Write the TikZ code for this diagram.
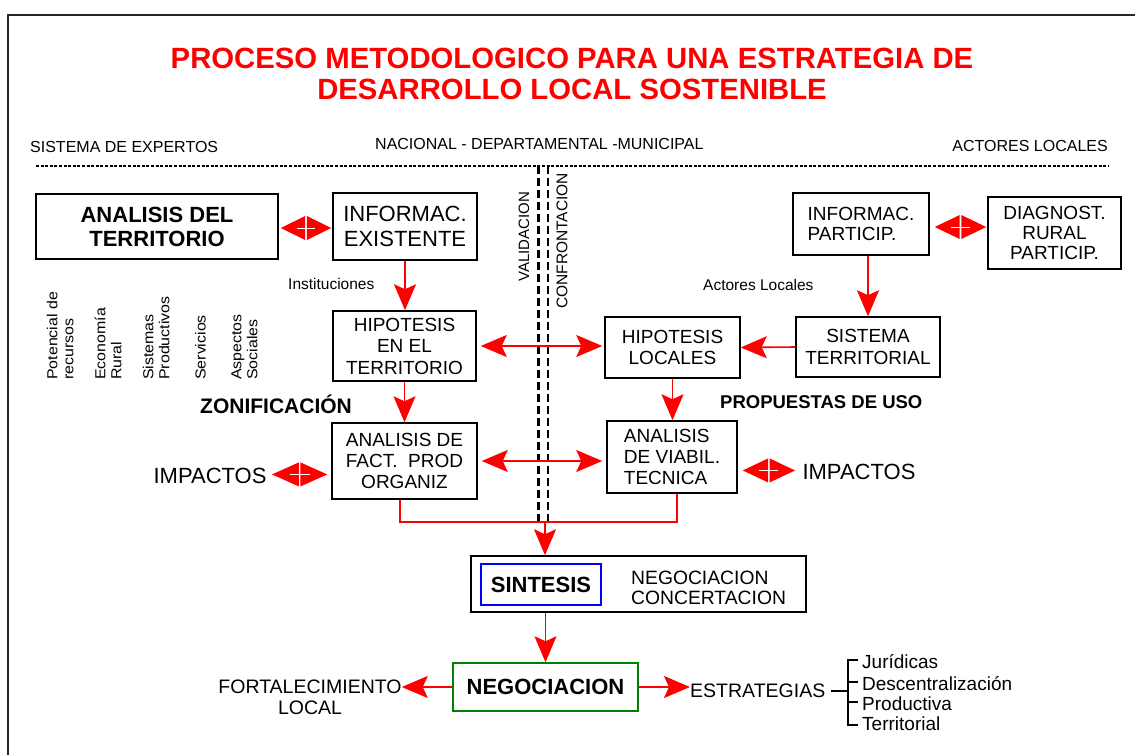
\documentclass[tikz,border=0pt]{standalone}
\usepackage{fontspec}
\setmainfont{Liberation Sans}
\usetikzlibrary{arrows.meta,calc}
\definecolor{myred}{RGB}{255,0,0}
\definecolor{mygreen}{RGB}{0,128,0}
\definecolor{myblue}{RGB}{0,0,255}
\newcommand\fsz[2]{\fontsize{#1}{#2}\selectfont}
% double-headed red arrow: two triangles meeting in the middle
\newcommand\twohead[3]{%
  \fill[myred] #1 -- ($#1!0.485!#2+(0,-#3)$) -- ($#1!0.485!#2+(0,#3)$) -- cycle;
  \fill[myred] #2 -- ($#1!0.515!#2+(0,-#3)$) -- ($#1!0.515!#2+(0,#3)$) -- cycle;
  \draw[white,line width=1pt] ($#1!0.32!#2$) -- ($#1!0.68!#2$);
}
\begin{document}
\begin{tikzpicture}[x=1pt,y=-1pt,
  box/.style={draw=black, line width=1.5pt, inner sep=0pt, align=center},
  redline/.style={draw=myred, line width=1.6pt},
  arr/.style={redline, -{Stealth[length=26pt,width=22pt,inset=5pt]}},
  dblarr/.style={redline, {Stealth[length=26pt,width=22pt,inset=5pt]}-{Stealth[length=26pt,width=22pt,inset=5pt]}},
  lbl/.style={inner sep=0pt, font=\fsz{16}{18}},
  rot/.style={rotate=90, anchor=north west, inner sep=0pt, font=\fsz{14.5}{16}},
  item/.style={anchor=base west, inner sep=0pt, font=\fsz{19}{20}}
]
\useasboundingbox (0,0) rectangle (1135,755);
% frame
\draw[line width=2pt, draw=black!85] (1135,15) -- (8,15) -- (8,755);
% title
\node[font=\bfseries\fsz{29.3}{31.5}, text=myred, align=center, inner sep=0pt] (title) at (572,74) {PROCESO METODOLOGICO PARA UNA ESTRATEGIA DE\\DESARROLLO LOCAL SOSTENIBLE};
% headers
\node[lbl, anchor=base west] (hexp) at (30,152) {SISTEMA DE EXPERTOS};
\node[lbl, anchor=base west] (hnac) at (375,149) {NACIONAL - DEPARTAMENTAL -MUNICIPAL};
\node[lbl, anchor=base east] (hact) at (1108,151) {ACTORES LOCALES};
\draw[line width=2.5pt, dash pattern=on 3pt off 1.6pt] (36,166) -- (1108,166);
% vertical separators
\draw[line width=3pt, dash pattern=on 8pt off 4pt] (538,166) -- (538,522);
\draw[line width=2pt, dash pattern=on 8pt off 4pt] (548,166) -- (548,522);
\node[rotate=90, inner sep=0pt, font=\fsz{15}{16}] (valid) at (524,237) {VALIDACION};
\node[rotate=90, inner sep=0pt, font=\fsz{15.5}{16}] (confr) at (562,241) {CONFRONTACION};
% boxes
\node[box, minimum width=242pt, minimum height=65pt, font=\bfseries\fsz{22}{24}] (ter) at (157,226.5) {ANALISIS DEL\\TERRITORIO};
\node[box, minimum width=144pt, minimum height=67pt, font=\fsz{22}{25}] (infex) at (405,226.5) {INFORMAC.\\EXISTENTE};
\node[box, minimum width=143pt, minimum height=70pt, font=\fsz{19}{21.5}] (hipt) at (404.5,346) {HIPOTESIS\\EN EL\\TERRITORIO};
\node[box, minimum width=135pt, minimum height=61pt, font=\fsz{19}{21.5}] (hipl) at (672.5,347.5) {HIPOTESIS\\LOCALES};
\node[box, minimum width=144pt, minimum height=60pt, font=\fsz{19}{21.5}] (sist) at (868,347) {SISTEMA\\TERRITORIAL};
\node[box, minimum width=136pt, minimum height=62pt, font=\fsz{19}{20.5}, align=left] (infp) at (861,224) {INFORMAC.\\PARTICIP.};
\node[box, minimum width=133pt, minimum height=72pt, font=\fsz{19}{20}] (diag) at (1054.5,233) {DIAGNOST.\\RURAL\\PARTICIP.};
\node[box, minimum width=145pt, minimum height=76pt, font=\fsz{19}{21}] (afp) at (404.5,461) {ANALISIS DE\\FACT.\ \ PROD\\ORGANIZ};
\node[box, minimum width=130pt, minimum height=72pt, font=\fsz{19}{21}, align=left] (avt) at (672,457) {ANALISIS\\DE VIABIL.\\TECNICA};
\node[box, minimum width=335pt, minimum height=56pt] (sint) at (638.5,584) {};
\node[draw=myblue, line width=1.2pt, minimum width=120pt, minimum height=41pt, inner sep=0pt, font=\bfseries\fsz{22}{24}] (sinin) at (541,584.5) {SINTESIS};
\node[anchor=west, align=left, inner sep=0pt, font=\fsz{19.3}{20.5}] (negcon) at (631,588) {NEGOCIACION\\CONCERTACION};
\node[draw=mygreen, line width=1.5pt, minimum width=185pt, minimum height=48pt, inner sep=0pt, font=\bfseries\fsz{22}{24}] (neg) at (545.5,687) {NEGOCIACION};
% free labels
\node[lbl, anchor=base west, font=\fsz{15.5}{17}] (inst) at (288,289) {Instituciones};
\node[lbl, anchor=base west, font=\fsz{15.5}{17}] (actl) at (703,290) {Actores Locales};
\node[anchor=base west, inner sep=0pt, font=\bfseries\fsz{21}{22}] (zon) at (200,413) {ZONIFICACIÓN};
\node[anchor=base west, inner sep=0pt, font=\bfseries\fsz{18.5}{22}] (prop) at (720,408) {PROPUESTAS DE USO};
\node[anchor=base east, font=\fsz{22}{24}] (imp1) at (270,483) {IMPACTOS};
\node[anchor=base west, font=\fsz{22}{24}] (imp2) at (799,479) {IMPACTOS};
\node[align=center, inner sep=0pt, font=\fsz{19.5}{21}] (fort) at (310,697) {FORTALECIMIENTO\\LOCAL};
\node[anchor=west, inner sep=0pt, font=\fsz{19.5}{21}] (estr) at (690,691) {ESTRATEGIAS};
\node[item] (it1) at (862,668) {Jurídicas};
\node[item] (it2) at (862,690) {Descentralización};
\node[item] (it3) at (862,710) {Productiva};
\node[item] (it4) at (862,730) {Territorial};
% rotated themes
\node[rot] (t1) at (46,380) {\scalebox{1.1}[1]{\begin{tabular}{@{}l@{}}Potencial de\\recursos\end{tabular}}};
\node[rot] (t2) at (94,380) {\scalebox{1.1}[1]{\begin{tabular}{@{}l@{}}Economía\\Rural\end{tabular}}};
\node[rot] (t3) at (142,380) {\scalebox{1.1}[1]{\begin{tabular}{@{}l@{}}Sistemas\\Productivos\end{tabular}}};
\node[rot] (t4) at (195,380) {\scalebox{1.1}[1]{Servicios}};
\node[rot] (t5) at (230,380) {\scalebox{1.1}[1]{\begin{tabular}{@{}l@{}}Aspectos\\Sociales\end{tabular}}};
% double arrows (short)
\coordinate (d1a) at ($(ter.east)+(2,1.5)$);
\coordinate (d1b) at ($(infex.west)+(-1,1.5)$);
\twohead{(d1a)}{(d1b)}{12}
\coordinate (d2a) at ($(infp.east)+(5,3)$);
\coordinate (d2b) at ($(infp.east -| diag.west)+(-1,3)$);
\twohead{(d2a)}{(d2b)}{12}
\coordinate (d3a) at ($(imp1.east)+(2,-1)$);
\coordinate (d3b) at ($(imp1.east -| afp.west)+(-4,-1)$);
\twohead{(d3a)}{(d3b)}{12}
\coordinate (d4a) at ($(avt.east |- imp2.west)+(5,-1)$);
\coordinate (d4b) at ($(imp2.west)+(-4,-1)$);
\twohead{(d4a)}{(d4b)}{12}
% long double arrows
\draw[dblarr, shorten <=4pt, shorten >=2pt] (hipt.east) -- (hipl.west |- hipt.east);
\draw[dblarr, shorten <=4pt, shorten >=4pt] (afp.east) -- (avt.west |- afp.east);
% single arrows
\draw[arr] (infex.south) -- (infex.south |- hipt.north);
\draw[arr] (hipt.south) -- (hipt.south |- afp.north);
\draw[arr] (sist.north |- infp.south) -- (sist.north);
\draw[arr] (sist.west) -- (hipl.east);
\draw[arr] (hipl.south) -- (hipl.south |- avt.north);
\coordinate (jn) at (545,522);
\draw[redline] ([xshift=-4.5pt]afp.south) |- (jn) -| ([xshift=5pt]avt.south);
\draw[arr] (jn) -- (jn |- sint.north);
\draw[arr] (neg.north |- sint.south) -- (neg.north);
\draw[arr] (neg.west) -- (neg.west -| fort.east);
\draw[arr] (neg.east) -- (neg.east -| estr.west);
% bracket
\coordinate (bk) at (848,691);
\draw[line width=2pt] ([xshift=6pt]estr.east) -- (bk);
\draw[line width=2pt] (858,660) -- (848,660) -- (848,725) -- (858,725);
\draw[line width=2pt] (848,682) -- (858,682);
\draw[line width=2pt] (848,702) -- (858,702);
\end{tikzpicture}
\end{document}
